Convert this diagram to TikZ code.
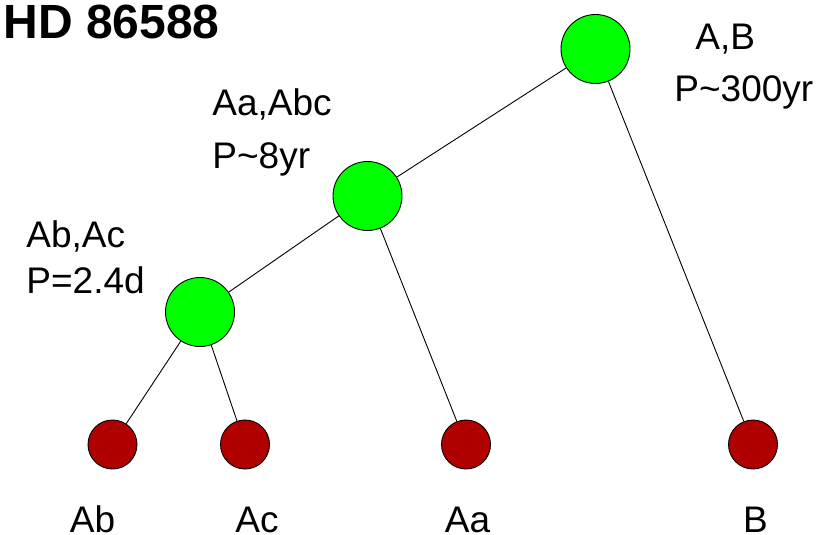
\documentclass[tikz,border=0pt]{standalone}
\usepackage{fontspec}
\setmainfont{Liberation Sans}
\usetikzlibrary{arrows}
\definecolor{stardark}{RGB}{176,0,0}

\begin{document}
\begin{tikzpicture}[x=1pt,y=-1pt,-,line width=0.9pt,
		pair node/.style={circle,fill=green,draw,minimum size=69pt,inner sep=0pt},
		star node/.style={circle,fill=stardark,draw,minimum size=49pt,inner sep=0pt},
		lbl/.style={font=\fontsize{37}{37}\selectfont,anchor=base west,inner sep=0pt}]
		\useasboundingbox (0,0) rectangle (830,535);
		
		\node[anchor=base west,inner sep=0pt,font=\fontsize{48}{48}\selectfont\bfseries] (title) at (3,39) {HD 86588};
		
		\node[pair node] (AB) at (595.5,49) {};
		\node[pair node] (AaAbc) at (367.5,196) {};
		\node[pair node] (AbAc) at (200,312) {};
		
		\node[star node] (Ab) at (112.5,444.5) {};
		\node[star node] (Ac) at (245,444.5) {};
		\node[star node] (Aa) at (466,444.5) {};
		\node[star node] (B) at (753,444.5) {};
		
		\node[lbl] (ABname) at (695,49) {A,B};
		\node[lbl] (ABper) at (674,102) {P\~{}300yr};
		\node[lbl] (AaAbcname) at (212,115) {Aa,Abc};
		\node[lbl] (AaAbcper) at (212,168) {P\~{}8yr};
		\node[lbl] (AbAcname) at (26,247) {Ab,Ac};
		\node[lbl] (AbAcper) at (26,293) {P=2.4d};
		
		\node[lbl,anchor=base] (Abname) at (92.5,532) {Ab};
		\node[lbl,anchor=base] (Acname) at (257,532) {Ac};
		\node[lbl,anchor=base] (Aaname) at (467.5,532) {Aa};
		\node[lbl,anchor=base] (Bname) at (755.5,532) {B};
		
		\path
		(AB) edge (AaAbc)
		(AB) edge (B)
		(AaAbc) edge (AbAc)
		(AaAbc) edge (Aa)
		(AbAc) edge (Ab)
		(AbAc) edge (Ac)
		;
		\end{tikzpicture}
\end{document}
